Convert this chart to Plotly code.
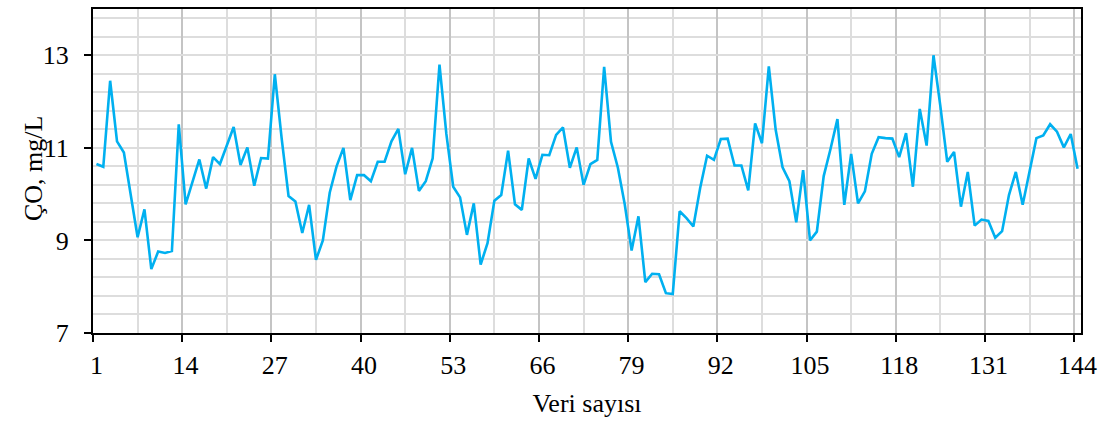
import plotly.graph_objects as go

# CO concentration readings (mg/L) for observations 1..144
co_values = [
    10.65, 10.59, 12.45, 11.14, 10.90, 10.00, 9.07, 9.67, 8.38, 8.76,
    8.73, 8.77, 11.51, 9.78, 10.27, 10.75, 10.12, 10.80, 10.65, 11.05,
    11.45, 10.63, 11.01, 10.18, 10.78, 10.77, 12.59, 11.20, 9.96, 9.84,
    9.16, 9.77, 8.58, 9.00, 10.03, 10.60, 11.00, 9.87, 10.41, 10.41,
    10.28, 10.70, 10.70, 11.14, 11.41, 10.43, 11.00, 10.07, 10.28, 10.77,
    12.80, 11.30, 10.16, 9.93, 9.12, 9.80, 8.48, 8.94, 9.86, 9.98,
    10.94, 9.78, 9.66, 10.77, 10.33, 10.85, 10.84, 11.28, 11.44, 10.57,
    11.01, 10.20, 10.65, 10.74, 12.75, 11.13, 10.57, 9.78, 8.78, 9.52,
    8.10, 8.28, 8.27, 7.86, 7.84, 9.63, 9.48, 9.30, 10.14, 10.83,
    10.74, 11.19, 11.20, 10.62, 10.62, 10.08, 11.53, 11.10, 12.76, 11.39,
    10.58, 10.28, 9.39, 10.52, 9.00, 9.19, 10.39, 10.98, 11.62, 9.77,
    10.87, 9.80, 10.06, 10.87, 11.23, 11.21, 11.20, 10.80, 11.32, 10.16,
    11.84, 11.05, 13.00, 11.90, 10.70, 10.91, 9.73, 10.48, 9.32, 9.45,
    9.42, 9.06, 9.20, 9.98, 10.48, 9.77, 10.50, 11.21, 11.27, 11.51,
    11.35, 11.01, 11.30, 10.55,
]
observation = list(range(1, len(co_values) + 1))

# Category labels every 13 observations; tick marks sit on category boundaries
x_labels = list(range(1, 145, 13))
x_tick_marks = [v - 0.5 for v in x_labels]
x_mid_grid = [v + 6 for v in x_labels[:-1]]

y_ticks = [7, 9, 11, 13]

FONT = "Liberation Serif"
FS = 26

fig = go.Figure()
fig.add_trace(go.Scatter(
    x=observation, y=co_values, mode="lines",
    line=dict(color="#00B0F0", width=2.6),
    xaxis="x", yaxis="y", showlegend=False,
))
# invisible helper trace for the label axis
fig.add_trace(go.Scatter(
    x=[observation[0]], y=[co_values[0]], mode="lines",
    line=dict(width=0), xaxis="x2", yaxis="y",
    showlegend=False, hoverinfo="skip",
))

fig.update_layout(
    width=1104, height=421,
    margin=dict(l=93, r=21, t=7, b=88),
    paper_bgcolor="white", plot_bgcolor="white",
    font=dict(family=FONT, size=FS, color="black"),
    xaxis=dict(
        range=[0.5, 144.5],
        tickmode="array", tickvals=x_tick_marks,
        showticklabels=False,
        ticks="outside", ticklen=7, tickwidth=2, tickcolor="black",
        showgrid=True, gridcolor="#C4C4C4", gridwidth=1.5,
        minor=dict(tickmode="array", tickvals=x_mid_grid, showgrid=True,
                   gridcolor="#DDDDDD", gridwidth=1.5, ticks=""),
        showline=True, linecolor="black", linewidth=2, mirror=True,
        zeroline=False,
    ),
    xaxis2=dict(
        range=[0.5, 144.5], overlaying="x", anchor="y", side="bottom",
        tickmode="array", tickvals=x_labels,
        ticktext=[str(v) for v in x_labels],
        ticks="", showgrid=False, showline=False, zeroline=False,
        ticklabelstandoff=14,
        tickfont=dict(family=FONT, size=FS),
        title=dict(text="Veri sayısı", font=dict(family=FONT, size=FS), standoff=14),
    ),
    yaxis=dict(
        range=[7, 14],
        tickmode="array", tickvals=y_ticks,
        ticks="outside", ticklen=7, tickwidth=2, tickcolor="black",
        showgrid=True, gridcolor="#DDDDDD", gridwidth=1.5,
        minor=dict(tick0=7, dtick=0.4, showgrid=True,
                   gridcolor="#DDDDDD", gridwidth=1.5, ticks=""),
        showline=True, linecolor="black", linewidth=2, mirror=True,
        zeroline=False,
        ticklabelstandoff=10,
        tickfont=dict(family=FONT, size=FS),
    ),
    annotations=[dict(
        text="ÇO, mg/L", textangle=-90,
        xref="paper", yref="paper", x=0, y=0.5,
        xanchor="center", yanchor="middle", xshift=-60, yshift=2,
        showarrow=False, font=dict(family=FONT, size=FS),
    )],
)

fig.write_html("out.html")
